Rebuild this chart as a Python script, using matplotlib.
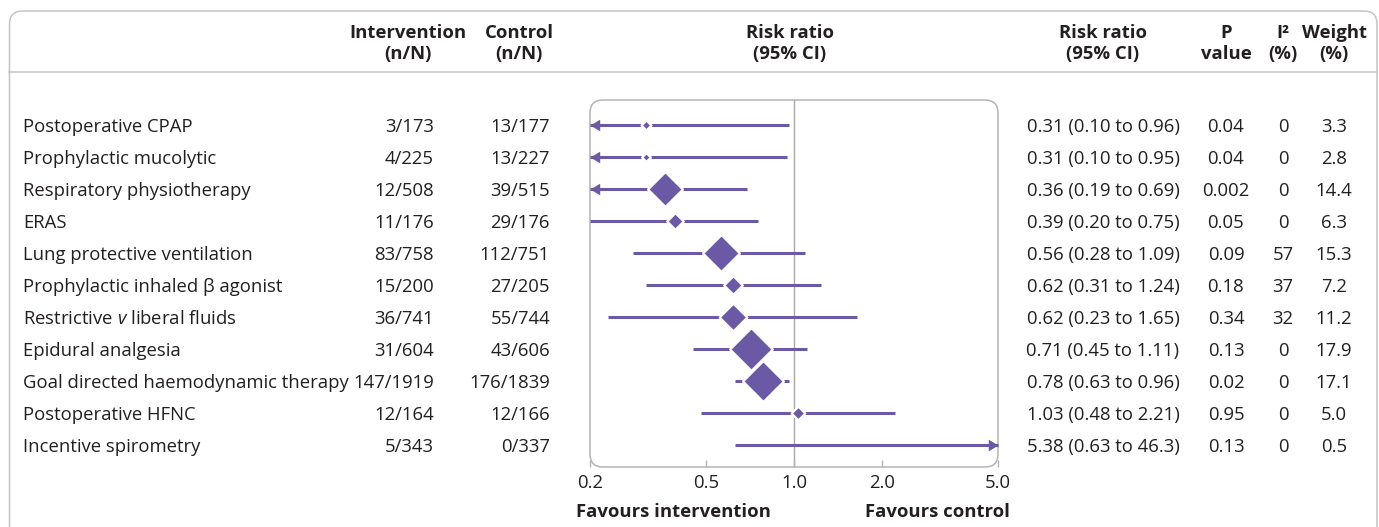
import matplotlib
matplotlib.use("Agg")
import matplotlib.pyplot as plt
import matplotlib.transforms as mtrans
from matplotlib.patches import FancyBboxPatch
from matplotlib.lines import Line2D
from matplotlib.ticker import NullLocator

# ---------------- data ----------------
interventions = [
    "Postoperative CPAP",
    "Prophylactic mucolytic",
    "Respiratory physiotherapy",
    "ERAS",
    "Lung protective ventilation",
    "Prophylactic inhaled β agonist",
    r"Restrictive $\mathit{v}$ liberal fluids",
    "Epidural analgesia",
    "Goal directed haemodynamic therapy",
    "Postoperative HFNC",
    "Incentive spirometry",
]
int_events = ["3/173", "4/225", "12/508", "11/176", "83/758", "15/200",
              "36/741", "31/604", "147/1919", "12/164", "5/343"]
ctrl_events = ["13/177", "13/227", "39/515", "29/176", "112/751", "27/205",
               "55/744", "43/606", "176/1839", "12/166", "0/337"]
rr = [0.31, 0.31, 0.36, 0.39, 0.56, 0.62, 0.62, 0.71, 0.78, 1.03, 5.38]
ci_low = [0.10, 0.10, 0.19, 0.20, 0.28, 0.31, 0.23, 0.45, 0.63, 0.48, 0.63]
ci_high = [0.96, 0.95, 0.69, 0.75, 1.09, 1.24, 1.65, 1.11, 0.96, 2.21, 46.3]
p_values = ["0.04", "0.04", "0.002", "0.05", "0.09", "0.18", "0.34",
            "0.13", "0.02", "0.95", "0.13"]
i2 = [0, 0, 0, 0, 57, 37, 32, 0, 0, 0, 0]
weight = [3.3, 2.8, 14.4, 6.3, 15.3, 7.2, 11.2, 17.9, 17.1, 5.0, 0.5]
x_ticks = [0.2, 0.5, 1.0, 2.0, 5.0]
x_tick_labels = ["0.2", "0.5", "1.0", "2.0", "5.0"]

# ---------------- style ----------------
FONT = "Open Sans"
plt.rcParams["font.family"] = [FONT, "DejaVu Sans"]
plt.rcParams["mathtext.fontset"] = "custom"
plt.rcParams["mathtext.rm"] = FONT
plt.rcParams["mathtext.it"] = FONT + ":italic"
TXT = "#231f20"
PURPLE = "#6a5aa6"
GREY = "#b4b4b4"
FS = 13.3

W, H = 1379, 527
fig = plt.figure(figsize=(W / 100, H / 100), dpi=100)

def fx(px):
    return px / W

def fy(py):
    return 1 - py / H

# plot area (pixels): x 590..998, y 100..467
ax = fig.add_axes([fx(590), fy(467), fx(998) - fx(590), fy(100) - fy(467)])
ax.set_xscale("log")
ax.set_xlim(x_ticks[0], x_ticks[-1])
n = len(interventions)
ax.set_ylim(n - 1 + 22 / 32, -25 / 32)
for s in ax.spines.values():
    s.set_visible(False)
ax.set_yticks([])
ax.set_xticks(x_ticks)
ax.set_xticklabels(x_tick_labels)
ax.xaxis.set_minor_locator(NullLocator())
ax.tick_params(axis="x", direction="in", length=5, width=1, color=GREY,
               pad=5, labelsize=FS, labelcolor=TXT)
ax.patch.set_visible(False)

ax.axvline(1.0, color="#a8a8a8", lw=1.0, zorder=1)

lo_lim, hi_lim = x_ticks[0], x_ticks[-1]
diamond = [(0, 1), (1, 0), (0, -1), (-1, 0), (0, 1)]
arrow_left = [(0, 0), (1, 0.6), (1, -0.6), (0, 0)]
arrow_right = [(0, 0), (-1, 0.6), (-1, -0.6), (0, 0)]
for i in range(n):
    lo = max(ci_low[i], lo_lim)
    hi = min(ci_high[i], hi_lim)
    ax.plot([lo, hi], [i, i], color=PURPLE, lw=2.2, solid_capstyle="butt",
            zorder=2, clip_on=False)
    if ci_low[i] < lo_lim:
        ax.plot([lo_lim], [i], marker=arrow_left, ms=14, color=PURPLE,
                mew=0, zorder=2, clip_on=False)
    if ci_high[i] > hi_lim:
        ax.plot([hi_lim], [i], marker=arrow_right, ms=14, color=PURPLE,
                mew=0, zorder=2, clip_on=False)
    if lo_lim <= rr[i] <= hi_lim:
        ax.plot([rr[i]], [i], marker=diamond, ms=1.62 * weight[i] + 1.8,
                mfc=PURPLE, mec="white", mew=1.6, zorder=3, clip_on=False)

# rounded box round the plot area (inches)
box = FancyBboxPatch((5.90, 5.27 - 4.67), 4.08, 3.67,
                     boxstyle="round,pad=0,rounding_size=0.13",
                     transform=fig.dpi_scale_trans, fill=False,
                     ec=GREY, lw=1.1, zorder=0)
fig.add_artist(box)

# outer frame
outer = FancyBboxPatch((0.095, -0.2), 13.675, 5.36,
                       boxstyle="round,pad=0,rounding_size=0.13",
                       transform=fig.dpi_scale_trans, fill=False,
                       ec="#c4c4c4", lw=1.1, zorder=0)
fig.add_artist(outer)
fig.add_artist(Line2D([fx(9), fx(1377)], [fy(72), fy(72)],
                      transform=fig.transFigure, color="#c4c4c4", lw=1.1))

# header
headers = [
    (408, "Intervention", "(n/N)"),
    (519, "Control", "(n/N)"),
    (790, "Risk ratio", "(95% CI)"),
    (1103, "Risk ratio", "(95% CI)"),
    (1226, "P", "value"),
    (1283, "I²", "(%)"),
    (1334, "Weight", "(%)"),
]
for x, l1, l2 in headers:
    fig.text(fx(x), fy(38), l1, ha="center", va="baseline", fontsize=FS,
             fontweight="bold", color=TXT)
    fig.text(fx(x), fy(59), l2, ha="center", va="baseline", fontsize=FS,
             fontweight="bold", color=TXT)

# table rows
row_tr = mtrans.blended_transform_factory(fig.transFigure, ax.transData) + \
    mtrans.ScaledTranslation(0, -7 / 100, fig.dpi_scale_trans)

def fmt(v):
    return f"{v:.1f}" if v >= 10 else f"{v:.2f}"

for i in range(n):
    kw = dict(transform=row_tr, va="baseline", fontsize=FS, color=TXT)
    fig.text(fx(23), i, interventions[i], ha="left", **kw)
    fig.text(fx(434), i, int_events[i], ha="right", **kw)
    fig.text(fx(550), i, ctrl_events[i], ha="right", **kw)
    fig.text(fx(1103), i, f"{fmt(rr[i])} ({fmt(ci_low[i])} to {fmt(ci_high[i])})",
             ha="center", **kw)
    fig.text(fx(1226), i, p_values[i], ha="center", **kw)
    fig.text(fx(1283), i, str(i2[i]), ha="center", **kw)
    fig.text(fx(1334), i, f"{weight[i]:.1f}", ha="center", **kw)

fig.text(fx(576), fy(517), "Favours intervention", ha="left", va="baseline",
         fontsize=FS, fontweight="bold", color=TXT)
fig.text(fx(1010), fy(517), "Favours control", ha="right", va="baseline",
         fontsize=FS, fontweight="bold", color=TXT)

fig.savefig("out.png", dpi=100)
